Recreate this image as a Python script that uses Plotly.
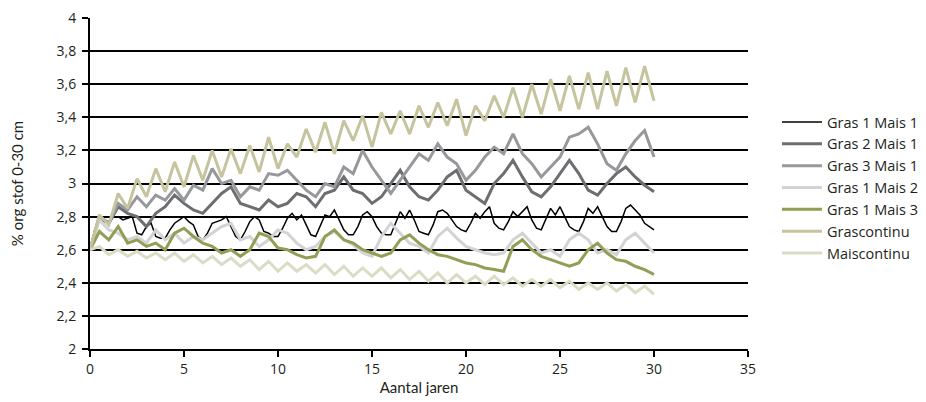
import plotly.graph_objects as go

# time axes (years)
years_half = [i * 0.5 for i in range(61)]
years_quarter = [i * 0.25 for i in range(121)]

series_names = ["Gras 1 Mais 1", "Gras 2 Mais 1", "Gras 3 Mais 1", "Gras 1 Mais 2",
                "Gras 1 Mais 3", "Grascontinu", "Maiscontinu"]

gras1_mais1 = [2.60, 2.72, 2.80, 2.77, 2.76, 2.80, 2.80, 2.78,
               2.79, 2.80, 2.70, 2.69, 2.74, 2.76, 2.68, 2.67,
               2.67, 2.72, 2.76, 2.78, 2.80, 2.77, 2.75, 2.68,
               2.66, 2.70, 2.76, 2.77, 2.78, 2.80, 2.74, 2.68,
               2.66, 2.71, 2.77, 2.80, 2.78, 2.71, 2.70, 2.68,
               2.68, 2.73, 2.79, 2.82, 2.78, 2.81, 2.75, 2.69,
               2.68, 2.74, 2.81, 2.80, 2.84, 2.78, 2.72, 2.69,
               2.69, 2.74, 2.81, 2.83, 2.80, 2.74, 2.70, 2.69,
               2.69, 2.76, 2.83, 2.79, 2.84, 2.78, 2.71, 2.70,
               2.69, 2.75, 2.83, 2.84, 2.82, 2.78, 2.74, 2.72,
               2.71, 2.76, 2.82, 2.79, 2.83, 2.86, 2.76, 2.73,
               2.72, 2.77, 2.83, 2.80, 2.83, 2.86, 2.78, 2.73,
               2.72, 2.78, 2.85, 2.81, 2.86, 2.80, 2.74, 2.72,
               2.71, 2.77, 2.85, 2.82, 2.86, 2.80, 2.74, 2.71,
               2.71, 2.77, 2.85, 2.87, 2.84, 2.81, 2.76, 2.74,
               2.72]

gras2_mais1 = [2.60, 2.80, 2.76, 2.86, 2.82, 2.80, 2.74, 2.82, 2.86, 2.93,
               2.88, 2.84, 2.82, 2.88, 2.94, 2.98, 2.88, 2.86, 2.84, 2.90,
               2.86, 2.88, 2.94, 2.92, 2.86, 2.94, 2.96, 3.04, 2.96, 2.94,
               2.88, 2.92, 3.00, 3.08, 2.98, 2.92, 2.90, 2.96, 3.04, 3.08,
               2.96, 2.92, 2.88, 3.00, 3.06, 3.14, 3.04, 2.95, 2.92, 2.98,
               3.06, 3.14, 3.06, 2.96, 2.93, 3.00, 3.06, 3.10, 3.04, 2.99,
               2.95]

gras3_mais1 = [2.60, 2.80, 2.76, 2.88, 2.84, 2.92, 2.86, 2.93, 2.90, 2.97,
               2.90, 2.99, 2.96, 3.09, 3.00, 3.02, 2.92, 2.98, 2.96, 3.06,
               3.05, 3.08, 3.02, 2.96, 2.92, 3.00, 2.98, 3.10, 3.06, 3.20,
               3.10, 3.02, 2.94, 3.02, 3.10, 3.18, 3.14, 3.24, 3.16, 3.12,
               3.02, 3.08, 3.16, 3.22, 3.18, 3.30, 3.18, 3.12, 3.04, 3.10,
               3.16, 3.28, 3.30, 3.34, 3.24, 3.12, 3.08, 3.18, 3.26, 3.32,
               3.16]

gras1_mais2 = [2.60, 2.78, 2.72, 2.70, 2.66, 2.68, 2.64, 2.72, 2.66, 2.70,
               2.64, 2.68, 2.66, 2.70, 2.74, 2.76, 2.66, 2.68, 2.62, 2.66,
               2.72, 2.70, 2.64, 2.60, 2.62, 2.68, 2.71, 2.66, 2.63, 2.58,
               2.56, 2.68, 2.76, 2.70, 2.64, 2.62, 2.58, 2.68, 2.73, 2.67,
               2.62, 2.60, 2.58, 2.57, 2.58, 2.66, 2.70, 2.64, 2.58, 2.60,
               2.56, 2.66, 2.70, 2.66, 2.58, 2.60, 2.57, 2.66, 2.70, 2.64,
               2.58]

gras1_mais3 = [2.60, 2.71, 2.66, 2.74, 2.64, 2.66, 2.62, 2.64, 2.60, 2.70,
               2.73, 2.68, 2.64, 2.62, 2.58, 2.60, 2.56, 2.60, 2.70, 2.68,
               2.61, 2.60, 2.57, 2.55, 2.56, 2.68, 2.72, 2.66, 2.64, 2.60,
               2.58, 2.56, 2.58, 2.66, 2.69, 2.64, 2.60, 2.57, 2.56, 2.54,
               2.52, 2.51, 2.49, 2.48, 2.47, 2.62, 2.66, 2.60, 2.56, 2.54,
               2.52, 2.50, 2.52, 2.60, 2.64, 2.58, 2.54, 2.53, 2.50, 2.48,
               2.45]

grascontinu = [2.60, 2.81, 2.75, 2.94, 2.85, 3.03, 2.92, 3.09, 2.95, 3.13,
               2.98, 3.17, 3.02, 3.20, 3.04, 3.21, 3.06, 3.23, 3.07, 3.28,
               3.09, 3.24, 3.16, 3.33, 3.19, 3.37, 3.18, 3.38, 3.26, 3.41,
               3.22, 3.43, 3.30, 3.44, 3.30, 3.47, 3.34, 3.49, 3.35, 3.51,
               3.29, 3.47, 3.38, 3.53, 3.40, 3.58, 3.40, 3.60, 3.42, 3.63,
               3.44, 3.65, 3.45, 3.67, 3.45, 3.68, 3.47, 3.70, 3.49, 3.71,
               3.50]

maiscontinu = [2.60, 2.62, 2.57, 2.60, 2.56, 2.59, 2.55, 2.58, 2.54, 2.58,
               2.53, 2.57, 2.52, 2.56, 2.51, 2.55, 2.50, 2.54, 2.48, 2.53,
               2.47, 2.52, 2.47, 2.51, 2.46, 2.51, 2.45, 2.50, 2.44, 2.49,
               2.44, 2.49, 2.43, 2.48, 2.42, 2.47, 2.41, 2.46, 2.40, 2.45,
               2.40, 2.44, 2.39, 2.44, 2.39, 2.43, 2.38, 2.42, 2.38, 2.42,
               2.37, 2.41, 2.36, 2.40, 2.36, 2.40, 2.35, 2.39, 2.34, 2.38,
               2.33]

y_tick_vals = [2, 2.2, 2.4, 2.6, 2.8, 3, 3.2, 3.4, 3.6, 3.8, 4]
y_tick_text = ["2", "2,2", "2,4", "2,6", "2,8", "3", "3,2", "3,4", "3,6", "3,8", "4"]
x_tick_vals = [0, 5, 10, 15, 20, 25, 30, 35]

series = [
    (series_names[0], years_quarter, gras1_mais1, "#000000", 1.5),
    (series_names[1], years_half, gras2_mais1, "#6d6e71", 3),
    (series_names[2], years_half, gras3_mais1, "#97989b", 3),
    (series_names[3], years_half, gras1_mais2, "#d2d3d5", 3),
    (series_names[4], years_half, gras1_mais3, "#949d55", 3),
    (series_names[5], years_half, grascontinu, "#c5c49f", 3),
    (series_names[6], years_half, maiscontinu, "#dcdcc6", 3),
]

fig = go.Figure()
for name, xs, ys, color, width in series:
    fig.add_trace(go.Scatter(x=xs, y=ys, mode="lines", name=name,
                             line=dict(color=color, width=width)))

legend_font = "'Open Sans', Lato, sans-serif"
axis_font = "Lato, 'Open Sans', sans-serif"

fig.update_layout(
    width=926, height=402,
    margin=dict(l=82, r=186, t=10, b=61, autoexpand=False),
    paper_bgcolor="white", plot_bgcolor="white",
    font=dict(family=axis_font, size=14, color="#231f20"),
    showlegend=True,
    legend=dict(x=1.044, xanchor="left", y=0.734, yanchor="top",
                font=dict(family=legend_font, size=14.5, color="#231f20"),
                bgcolor="rgba(0,0,0,0)", borderwidth=0,
                itemwidth=40, tracegroupgap=0),
    xaxis=dict(range=[0, 35], tickvals=x_tick_vals, showgrid=False, zeroline=False,
               showline=True, linecolor="black", linewidth=2,
               ticks="outside", ticklen=6, tickwidth=2, tickcolor="black",
               ticklabeloverflow="allow",
               tickfont=dict(family=legend_font, size=14),
               title=dict(text="Aantal jaren", font=dict(size=15), standoff=0)),
    yaxis=dict(range=[2, 4.0005], tickvals=y_tick_vals, ticktext=y_tick_text,
               showgrid=True, gridcolor="black", gridwidth=2, zeroline=False,
               showline=True, linecolor="black", linewidth=2,
               ticks="outside", ticklen=6, tickwidth=2, tickcolor="black",
               ticklabeloverflow="allow",
               ticklabelstandoff=3, tickfont=dict(family=legend_font, size=14),
               title=dict(text="% org stof 0-30 cm", font=dict(size=15), standoff=32)),
)

fig.write_html("out.html")
